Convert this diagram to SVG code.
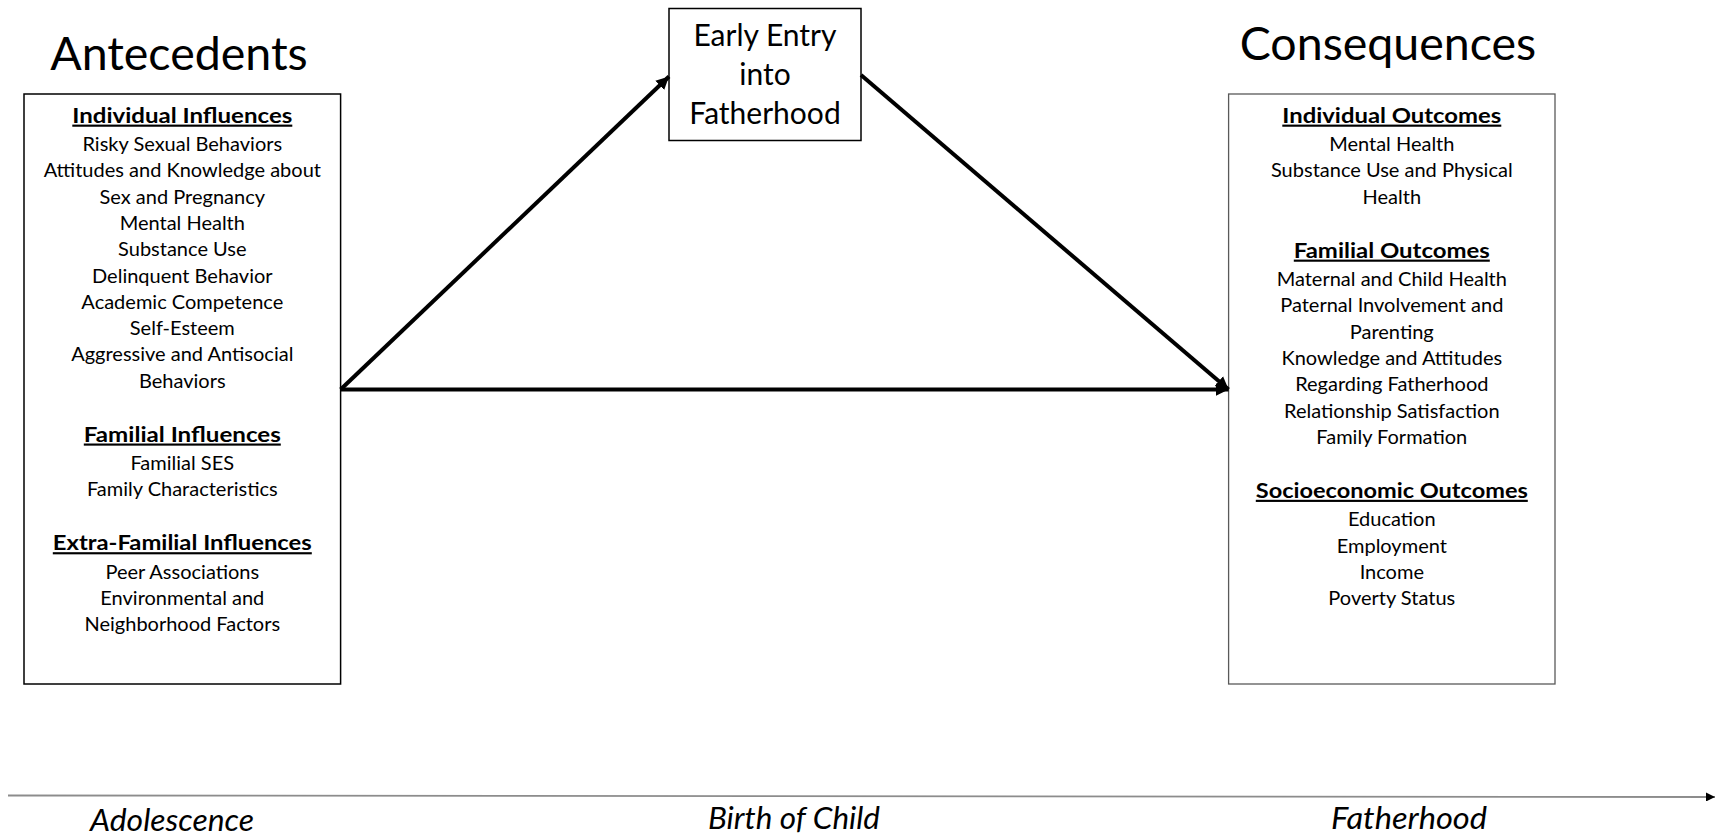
<svg xmlns="http://www.w3.org/2000/svg" width="1717" height="839" viewBox="0 0 1717 839">
<style>
text{font-family:Lato,"Open Sans","Liberation Sans",sans-serif;fill:#000;text-anchor:middle}
.title{font-size:46.5px}
.mid{font-size:30px}
.h{font-size:21.5px;font-weight:bold;text-decoration:underline}
.i{font-size:20px}
.t{font-size:31px;font-style:italic}
.box{fill:#fff;stroke:#000;stroke-width:1.5}
.box2{fill:#fff;stroke:#595959;stroke-width:1.3}
.conn{stroke:#000;stroke-width:4;fill:none}
</style>
<defs>
<marker id="ah" viewBox="0 0 10 10" refX="10" refY="5" markerWidth="3.2" markerHeight="3.6" orient="auto" markerUnits="strokeWidth">
<path d="M0,0 L10,5 L0,10 z" fill="#000"/>
</marker>
<marker id="ta" viewBox="0 0 10 10" refX="10" refY="5" markerWidth="6" markerHeight="5" orient="auto" markerUnits="strokeWidth">
<path d="M0,0 L10,5 L0,10 z" fill="#000"/>
</marker>
</defs>
<rect width="1717" height="839" fill="#fff"/>

<text class="title" x="179" y="70">Antecedents</text>
<text class="title" x="1388" y="60">Consequences</text>

<g id="antecedents">
<rect class="box" x="24" y="94" width="316.6" height="590"/>
<text class="h" x="182.3" y="122.6" textLength="220" lengthAdjust="spacingAndGlyphs">Individual Influences</text>
<text class="i" x="182.3" y="151">Risky Sexual Behaviors</text>
<text class="i" x="182.3" y="177.3">Attitudes and Knowledge about</text>
<text class="i" x="182.3" y="203.6">Sex and Pregnancy</text>
<text class="i" x="182.3" y="229.9">Mental Health</text>
<text class="i" x="182.3" y="256.2">Substance Use</text>
<text class="i" x="182.3" y="282.5">Delinquent Behavior</text>
<text class="i" x="182.3" y="308.8">Academic Competence</text>
<text class="i" x="182.3" y="335.1">Self-Esteem</text>
<text class="i" x="182.3" y="361.4">Aggressive and Antisocial</text>
<text class="i" x="182.3" y="387.7">Behaviors</text>
<text class="h" x="182.3" y="441.5" textLength="197" lengthAdjust="spacingAndGlyphs">Familial Influences</text>
<text class="i" x="182.3" y="469.9">Familial SES</text>
<text class="i" x="182.3" y="496.2">Family Characteristics</text>
<text class="h" x="182.3" y="550.2" textLength="259" lengthAdjust="spacingAndGlyphs">Extra-Familial  Influences</text>
<text class="i" x="182.3" y="578.6">Peer Associations</text>
<text class="i" x="182.3" y="604.9">Environmental and</text>
<text class="i" x="182.3" y="631.2">Neighborhood Factors</text>
</g>

<g id="early-entry">
<rect class="box" x="669" y="8.5" width="192" height="132"/>
<text class="mid" x="765" y="45.5">Early Entry</text>
<text class="mid" x="765" y="84.5">into</text>
<text class="mid" x="765" y="123.5">Fatherhood</text>
</g>

<g id="consequences">
<rect class="box2" x="1228.6" y="94" width="326.4" height="590"/>
<text class="h" x="1391.8" y="122.6" textLength="219" lengthAdjust="spacingAndGlyphs">Individual Outcomes</text>
<text class="i" x="1391.8" y="151">Mental Health</text>
<text class="i" x="1391.8" y="177.3">Substance Use and Physical</text>
<text class="i" x="1391.8" y="203.6">Health</text>
<text class="h" x="1391.8" y="257.6" textLength="196" lengthAdjust="spacingAndGlyphs">Familial Outcomes</text>
<text class="i" x="1391.8" y="286">Maternal and Child Health</text>
<text class="i" x="1391.8" y="312.3">Paternal Involvement and</text>
<text class="i" x="1391.8" y="338.6">Parenting</text>
<text class="i" x="1391.8" y="364.9">Knowledge and Attitudes</text>
<text class="i" x="1391.8" y="391.2">Regarding Fatherhood</text>
<text class="i" x="1391.8" y="417.5">Relationship Satisfaction</text>
<text class="i" x="1391.8" y="443.8">Family Formation</text>
<text class="h" x="1391.8" y="497.8" textLength="272" lengthAdjust="spacingAndGlyphs">Socioeconomic Outcomes</text>
<text class="i" x="1391.8" y="526.2">Education</text>
<text class="i" x="1391.8" y="552.5">Employment</text>
<text class="i" x="1391.8" y="578.8">Income</text>
<text class="i" x="1391.8" y="605.1">Poverty Status</text>
</g>

<g id="connectors">
<line class="conn" x1="340.6" y1="389.5" x2="669" y2="76.5" marker-end="url(#ah)"/>
<line class="conn" x1="861" y1="75" x2="1228.6" y2="389.5" marker-end="url(#ah)"/>
<line class="conn" x1="340.6" y1="389.5" x2="1228.6" y2="389.5" marker-end="url(#ah)"/>
</g>

<g id="timeline">
<line x1="8" y1="795.5" x2="1715" y2="797" stroke="#8c8c8c" stroke-width="1.8" marker-end="url(#ta)"/>
<text class="t" x="172" y="831" textLength="164" lengthAdjust="spacingAndGlyphs">Adolescence</text>
<text class="t" x="794" y="829" textLength="172" lengthAdjust="spacingAndGlyphs">Birth of Child</text>
<text class="t" x="1409" y="829" textLength="156" lengthAdjust="spacingAndGlyphs">Fatherhood</text>
</g>
</svg>
